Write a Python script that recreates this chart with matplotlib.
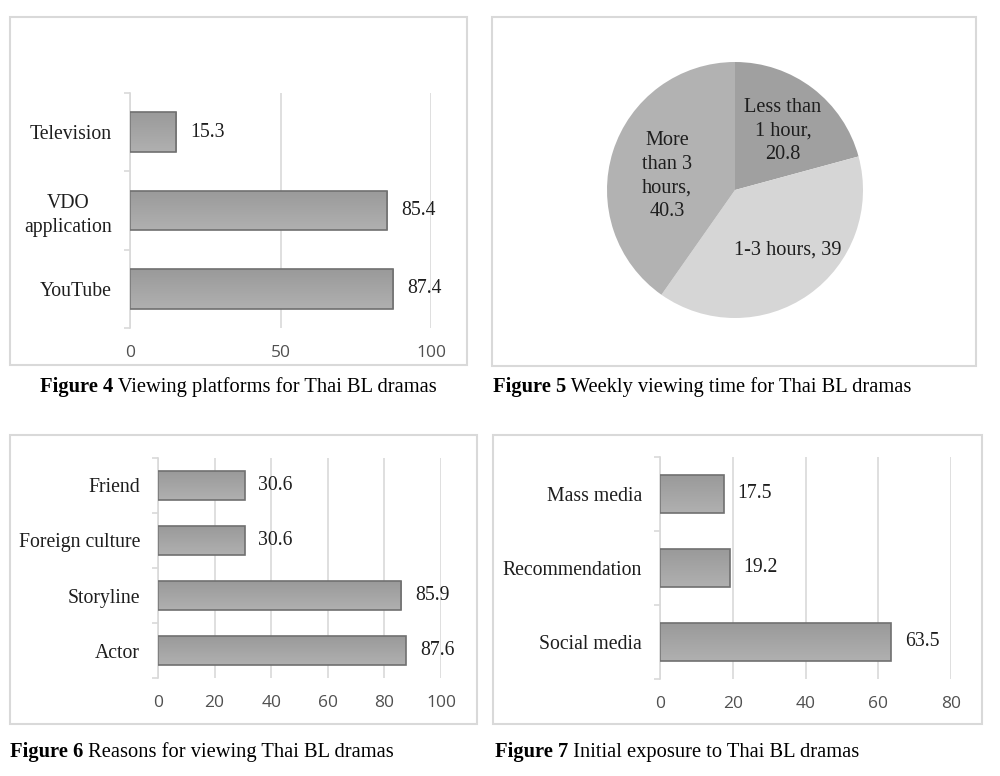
import numpy as np
import matplotlib
matplotlib.use('Agg')
import matplotlib.pyplot as plt
from matplotlib.patches import Rectangle
from matplotlib.text import Annotation
from matplotlib.colors import LinearSegmentedColormap

# data
platforms = ['YouTube', 'VDO\napplication', 'Television']
platform_vals = [87.4, 85.4, 15.3]

time_labels = ['Less than\n1 hour,\n20.8', '1-3 hours, 39', 'More\nthan 3\nhours,\n40.3']
time_vals = [20.8, 39, 40.3]

reasons = ['Actor', 'Storyline', 'Foreign culture', 'Friend']
reason_vals = [87.6, 85.9, 30.6, 30.6]

exposure = ['Social media', 'Recommendation', 'Mass media']
exposure_vals = [63.5, 19.2, 17.5]

captions = [
    ('Figure 4', ' Viewing platforms for Thai BL dramas'),
    ('Figure 5', ' Weekly viewing time for Thai BL dramas'),
    ('Figure 6', ' Reasons for viewing Thai BL dramas'),
    ('Figure 7', ' Initial exposure to Thai BL dramas'),
]

SERIF = 'Liberation Serif'
SANS = 'Open Sans'
GRID = '#d9d9d9'
TXT = '#1e1e1e'
bar_cmap = LinearSegmentedColormap.from_list('barg', ['#b0b0b0', '#9a9a9a'])

fig = plt.figure(figsize=(10, 7.76), dpi=100)
W, H = 1000, 776


def px_box(x0, y0, x1, y1):
    # rectangle in pixel coords (top-left origin)
    fig.add_artist(Rectangle((x0 / W, 1 - y1 / H), (x1 - x0) / W, (y1 - y0) / H,
                             transform=fig.transFigure, fill=False,
                             edgecolor='#d9d9d9', lw=1.5))


def px_axes(x0, y0, x1, y1):
    return fig.add_axes([x0 / W, 1 - y1 / H, (x1 - x0) / W, (y1 - y0) / H])


def hbar(ax, cats, vals, xmax, step, fs=14.2):
    y = np.arange(len(cats))
    bars = ax.barh(y, vals, height=0.51, color='none', edgecolor='#707070', lw=1.2, zorder=3)
    grad = np.linspace(0, 1, 50).reshape(-1, 1)
    for b in bars:
        x0, y0 = b.get_x(), b.get_y()
        im = ax.imshow(grad, extent=[x0, x0 + b.get_width(), y0 + b.get_height(), y0],
                       cmap=bar_cmap, aspect='auto', zorder=2, origin='upper')
        im.set_clip_path(b)
    for yy, v in zip(y, vals):
        ax.annotate(f'{v:g}', (v, yy), xytext=(10, 0), textcoords='offset points',
                    va='center', ha='left', fontsize=fs, family=SERIF, color=TXT)
    ax.set_xlim(0, xmax)
    ax.set_ylim(-0.5, len(cats) - 0.5)
    ax.set_xticks(np.arange(0, xmax + 1, step))
    ax.set_yticks(y)
    ax.set_yticklabels(cats, family=SERIF, fontsize=fs, color=TXT,
                       multialignment='center', linespacing=1.35)
    ax.set_yticks(np.arange(-0.5, len(cats), 1), minor=True)
    ax.tick_params(axis='y', which='major', length=0, pad=13)
    ax.tick_params(axis='y', which='minor', length=4, color=GRID, width=1.2)
    ax.tick_params(axis='x', length=0, pad=12, labelsize=12.5, labelcolor='#505050')
    for lab in ax.get_xticklabels():
        lab.set_family(SANS)
    ax.grid(axis='x', color=GRID, lw=1.2, zorder=0)
    ax.set_axisbelow(True)
    for s in ['top', 'right', 'bottom']:
        ax.spines[s].set_visible(False)
    ax.spines['left'].set_color(GRID)
    ax.spines['left'].set_linewidth(1.2)
    ax.set_facecolor('none')


# panel boxes
px_box(10, 17, 467, 365)
px_box(492, 17, 976, 366)
px_box(10, 435, 477, 724)
px_box(493, 435, 982, 724)

# Figure 4
ax1 = px_axes(130, 93, 431, 328)
hbar(ax1, platforms, platform_vals, 100, 50)

# Figure 5
ax2 = px_axes(607, 62, 863, 318)
ax2.pie(time_vals, startangle=90, counterclock=False,
        colors=['#a0a0a0', '#d6d6d6', '#b2b2b2'], radius=1)
ax2.set_xlim(-1, 1)
ax2.set_ylim(-1, 1)
ax2.set_aspect('auto')
label_pos = [(783, 131), (788, 250), (667, 176)]
for (lx, ly), t in zip(label_pos, time_labels):
    fig.text(lx / W, 1 - ly / H, t, ha='center', va='center', fontsize=14.6,
             family=SERIF, color=TXT, linespacing=1.35)

# Figure 6
ax3 = px_axes(158, 458, 441, 678)
hbar(ax3, reasons, reason_vals, 100, 20)

# Figure 7
ax4 = px_axes(660, 457, 951, 679)
hbar(ax4, exposure, exposure_vals, 80, 20)

# captions: bold figure number followed by regular text
cap_pos = [(40, 387), (493, 387), (10, 752), (495, 752)]
for (cx, cy), (bold, rest) in zip(cap_pos, captions):
    t = fig.text(cx / W, 1 - cy / H, bold, ha='left', va='center', fontsize=14.8,
                 family=SERIF, weight='bold', color='black')
    fig.add_artist(Annotation(rest, xy=(1, 0.5), xycoords=t, va='center', ha='left',
                              fontsize=14.8, family=SERIF, color='black'))

fig.savefig('out.png', dpi=100)
